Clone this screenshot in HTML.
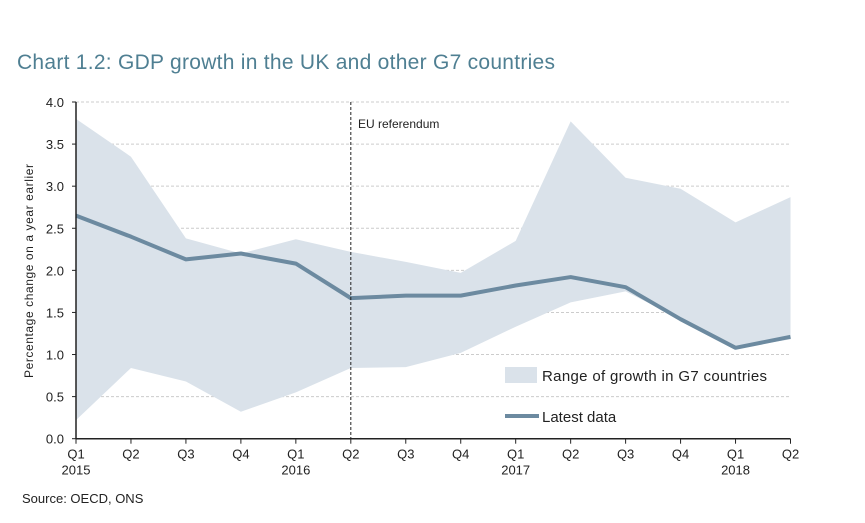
<!DOCTYPE html>
<html><head><meta charset="utf-8"><style>
body{margin:0;background:#fff;font-family:"Liberation Sans",sans-serif}
svg text{font-family:"Liberation Sans",sans-serif}
</style></head><body>
<svg width="865" height="518" viewBox="0 0 865 518">
<text x="17" y="69" font-size="21" fill="#4f7f92" textLength="538">Chart 1.2: GDP growth in the UK and other G7 countries</text>
<g id="grid"></g>
<g id="band"></g>
<g id="lineg"></g>
<g id="axes"></g>
<text x="358" y="128" font-size="12" fill="#222">EU referendum</text>
<rect x="505" y="367" width="32" height="16" fill="#dae2ea"/>
<text x="542" y="381" font-size="15" fill="#222" textLength="225">Range of growth in G7 countries</text>
<line x1="505" y1="416" x2="539" y2="416" stroke="#6c8aa0" stroke-width="4"/>
<text x="542" y="422" font-size="15" fill="#222">Latest data</text>
<text x="33" y="378" font-size="12" fill="#222" transform="rotate(-90 33 378)" textLength="214">Percentage change on a year earlier</text>
<text x="22" y="503" font-size="13" fill="#222">Source: OECD, ONS</text>
</svg>
<script>
const quarters=["Q1","Q2","Q3","Q4","Q1","Q2","Q3","Q4","Q1","Q2","Q3","Q4","Q1","Q2"];
const years=["2015","","","","2016","","","","2017","","","","2018",""];
const upper=[3.8,3.35,2.38,2.2,2.37,2.22,2.1,1.97,2.35,3.77,3.1,2.97,2.57,2.87];
const lower=[0.22,0.84,0.68,0.32,0.55,0.84,0.85,1.02,1.33,1.62,1.75,1.42,1.08,1.18];
const latest=[2.65,2.4,2.13,2.2,2.08,1.67,1.7,1.7,1.82,1.92,1.8,1.42,1.08,1.21];
const yTicks=["0.0","0.5","1.0","1.5","2.0","2.5","3.0","3.5","4.0"];
const refIndex=5;
const NS="http://www.w3.org/2000/svg";
const X0=76,X1=790.5,Y0=438.7,Y1=102,YMAX=4;
const xs=i=>X0+(X1-X0)*i/(quarters.length-1);
const ys=v=>Y0-(Y0-Y1)*v/YMAX;
function mk(t,a,p){const e=document.createElementNS(NS,t);for(const k in a)e.setAttribute(k,a[k]);p.appendChild(e);return e;}
const grid=document.getElementById('grid'),band=document.getElementById('band'),lg=document.getElementById('lineg'),ax=document.getElementById('axes');
yTicks.forEach(t=>{const v=parseFloat(t),y=ys(v);
 if(v>0){const g=mk('line',{x1:X0,x2:X1,y1:y,y2:y,stroke:'#ccc','stroke-dasharray':'3,2'},grid);
 
 }
 const l=mk('text',{x:X0-12,y:y+5,'font-size':13,'text-anchor':'end',fill:'#222'},ax);l.textContent=t;
 
 
 mk('line',{x1:X0-4,x2:X0,y1:y,y2:y,stroke:'#222'},ax);});
let pts=upper.map((v,i)=>xs(i)+','+ys(v));
for(let i=lower.length-1;i>=0;i--)pts.push(xs(i)+','+ys(lower[i]));
const poly=mk('polygon',{points:pts.join(' '),fill:'#dae2ea'},band);


const pl=mk('polyline',{points:latest.map((v,i)=>xs(i)+','+ys(v)).join(' '),fill:'none',stroke:'#6c8aa0','stroke-width':4,'stroke-linejoin':'round'},lg);


const rl=mk('line',{x1:xs(refIndex),x2:xs(refIndex),y1:Y1,y2:Y0,stroke:'#222','stroke-dasharray':'3,2'},lg);


mk('line',{x1:X0,x2:X0,y1:Y1,y2:Y0,stroke:'#222','stroke-width':1.5},ax);
mk('line',{x1:X0,x2:X1,y1:Y0,y2:Y0,stroke:'#222','stroke-width':1.5},ax);
quarters.forEach((q,i)=>{const x=xs(i);
 mk('line',{x1:x,x2:x,y1:Y0,y2:Y0+5,stroke:'#222'},ax);
 const t=mk('text',{x:x,y:Y0+20,'font-size':13,'text-anchor':'middle',fill:'#222'},ax);t.textContent=q;
 
 
 if(years[i]){const y=mk('text',{x:x,y:Y0+36,'font-size':13,'text-anchor':'middle',fill:'#222'},ax);y.textContent=years[i];
 
 }});
</script>
</body></html>
